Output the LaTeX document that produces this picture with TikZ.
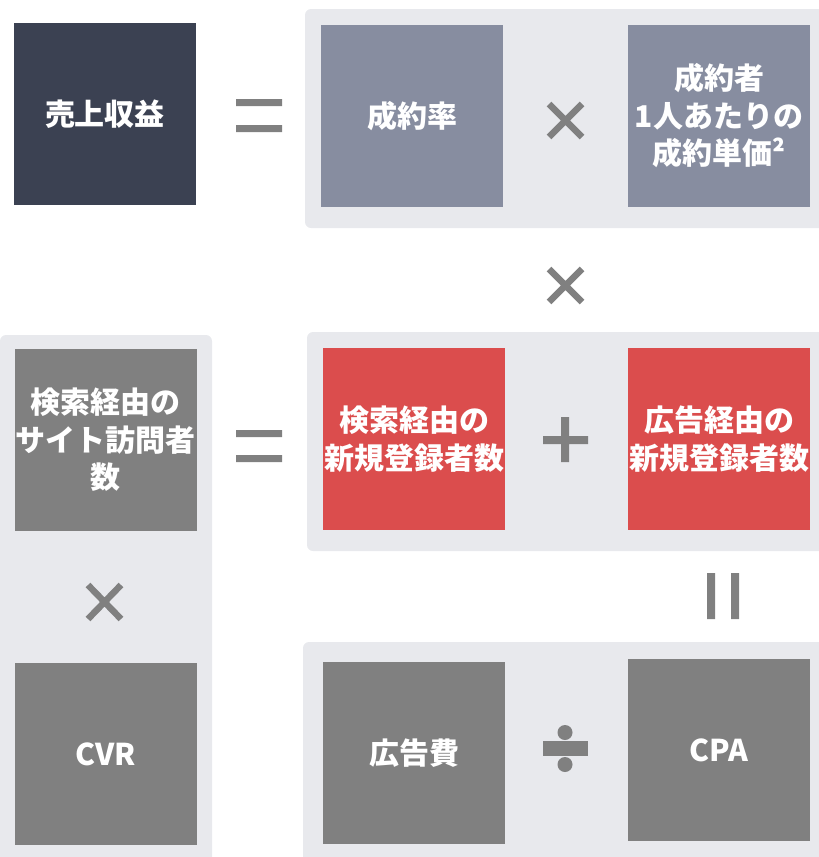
\documentclass[tikz,border=0pt]{standalone}
\usepackage{fontspec}
\newfontfamily\jpfont{Noto Sans CJK JP}
\definecolor{cdark}{HTML}{3B4152}
\definecolor{cslate}{HTML}{878DA0}
\definecolor{cpanel}{HTML}{E8E9ED}
\definecolor{cgray}{HTML}{808080}
\definecolor{cred}{HTML}{DB4D4D}
\definecolor{cop}{HTML}{808080}
\begin{document}
\begin{tikzpicture}[x=1pt,y=-1pt,
  box/.style={minimum width=182pt,minimum height=182pt,inner sep=0pt,outer sep=0pt,
    text=white,align=center,font=\jpfont\bfseries\fontsize{30}{37.5}\selectfont},
  panel/.style={fill=cpanel,rounded corners=6pt},
  opline/.style={draw=cop,line width=6.5pt},
  opfill/.style={fill=cop}]
\useasboundingbox (0,0) rectangle (819,857);
\clip (0,0) rectangle (819,857);
% panels
\path[panel] (305,9) rectangle (840,228);
\path[panel] (0,335) rectangle (212,880);
\path[panel] (307,332) rectangle (840,551);
\path[panel] (303,642) rectangle (840,880);
% boxes
\node[box,fill=cdark] (revenue) at (105,114) {売上収益};
\node[box,fill=cslate] (rate) at (412,116) {成約率};
\node[box,fill=cslate] (price) at (719,116) {成約者\\1人あたりの\\成約単価²};
\node[box,fill=cgray] (visitors) at (106,440) {検索経由の\\サイト訪問者\\数};
\node[box,fill=cgray] (cvr) at (106,754) {CVR};
\node[box,fill=cred] (search) at (414,439) {検索経由の\\新規登録者数};
\node[box,fill=cred] (adreg) at (719,439) {広告経由の\\新規登録者数};
\node[box,fill=cgray] (adcost) at (414,753) {広告費};
\node[box,fill=cgray] (cpa) at (719,750) {CPA};
% equals signs
\path[opfill] (236,99) rectangle (282,106) (236,125) rectangle (282,132);
\path[opfill] (236,430) rectangle (282,437) (236,455) rectangle (282,462);
% times signs
\draw[opline] (549,104) -- (582,137) (582,104) -- (549,137);
\draw[opline] (549,269) -- (582,302) (582,269) -- (549,302);
\draw[opline] (88,585) -- (121,619) (121,585) -- (88,619);
% plus
\path[opfill] (543,436) rectangle (588,444) (561,417) rectangle (569,462);
% double bar
\path[opfill] (707,573) rectangle (715,619) (731,573) rectangle (739,619);
% divide
\path[opfill] (543,741) rectangle (588,756);
\path[opfill] (565,732.5) circle[radius=7.5pt] (565,764.5) circle[radius=7.5pt];
\end{tikzpicture}
\end{document}
